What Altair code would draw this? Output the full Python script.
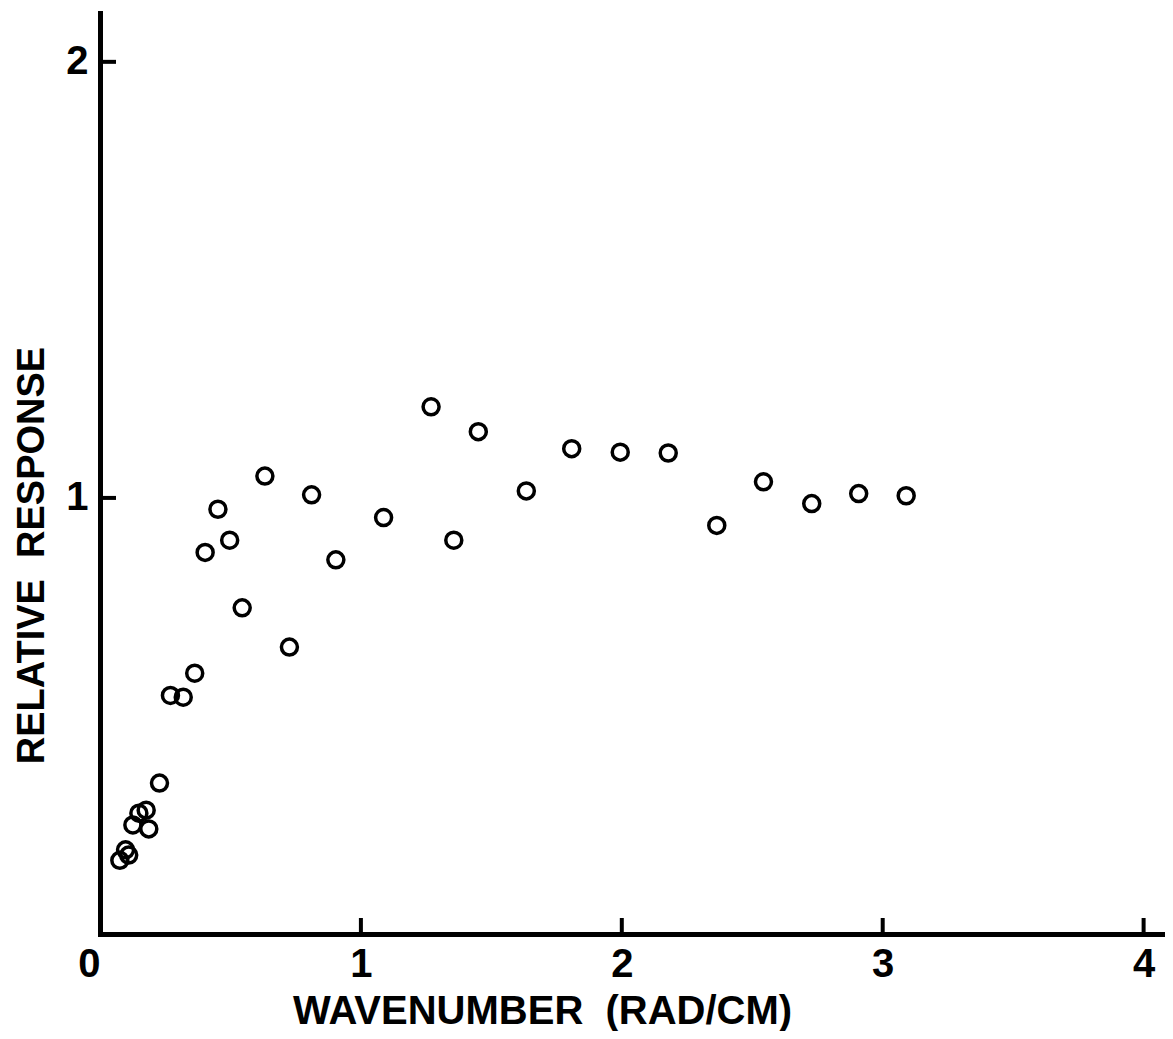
import altair as alt
import pandas as pd

# Data
wavenumber = [0.076, 0.098, 0.110, 0.126, 0.149, 0.177, 0.187, 0.228, 0.270, 0.319,
              0.363, 0.403, 0.452, 0.497, 0.545, 0.632, 0.726, 0.811, 0.904, 1.087,
              1.269, 1.356, 1.450, 1.634, 1.808, 1.994, 2.178, 2.364, 2.543, 2.728,
              2.908, 3.090]
response = [0.169, 0.193, 0.181, 0.250, 0.277, 0.284, 0.241, 0.346, 0.547, 0.543,
            0.598, 0.875, 0.974, 0.903, 0.748, 1.050, 0.658, 1.007, 0.858, 0.955,
            1.209, 0.903, 1.152, 1.016, 1.113, 1.105, 1.103, 0.937, 1.037, 0.987,
            1.010, 1.005]
x_label_values = [0, 1, 2, 3, 4]
x_tick_values = [1, 2, 3, 4]
y_tick_values = [1, 2]

W = 1065
H = 921
FONT = "Liberation Sans"

df = pd.DataFrame({"k": wavenumber, "r": response})
xs = alt.Scale(domain=[0, 4.082], nice=False, zero=False)
ys = alt.Scale(domain=[0, 2.112], nice=False, zero=False)

x_axis = alt.Axis(
    values=x_label_values, title="WAVENUMBER\u00a0\u00a0(RAD/CM)", labelFlush=False,
    labelOverlap=False, labelPadding=10,
    labelAlign={"condition": {"test": "datum.value == 0", "value": "right"}, "value": "center"},
    titleX=442, titleY=89,
    titleBaseline="alphabetic", titleAlign="center", titleFontSize=40)
y_axis = alt.Axis(
    values=y_tick_values, title="RELATIVE\u00a0\u00a0RESPONSE", labelOverlap=False,
    labelPadding=12, titleX=-57, titleY=542, titleAngle=-90,
    titleBaseline="alphabetic", titleAlign="center", titleFontSize=38)

points = alt.Chart(df).mark_point(
    shape="circle", filled=False, color="black", strokeWidth=3.5, size=256, opacity=1
).encode(
    x=alt.X("k:Q", scale=xs, axis=x_axis),
    y=alt.Y("r:Q", scale=ys, axis=y_axis),
)

xticks = alt.Chart(pd.DataFrame({"k": x_tick_values})).mark_tick(
    orient="vertical", color="black", thickness=4, size=16, opacity=1
).encode(x=alt.X("k:Q", scale=xs, axis=x_axis), y=alt.value(H - 8))

yticks = alt.Chart(pd.DataFrame({"r": y_tick_values})).mark_tick(
    orient="horizontal", color="black", thickness=4, size=16, opacity=1
).encode(y=alt.Y("r:Q", scale=ys, axis=y_axis), x=alt.value(8))

chart = alt.layer(points, xticks, yticks).properties(
    width=W, height=H,
    autosize=alt.AutoSizeParams(type="none"),
    padding={"left": 92, "top": 5, "right": 0, "bottom": 97},
    background="white",
).configure_view(stroke=None).configure_axis(
    domainColor="black", domainWidth=5, domainCap="square", ticks=False, grid=False,
    labelFont=FONT, labelFontSize=40, labelFontWeight="bold", labelColor="black",
    titleFont=FONT, titleFontWeight="bold", titleColor="black",
)

chart.save("out.html", embed_options={"renderer": "svg", "actions": False})
